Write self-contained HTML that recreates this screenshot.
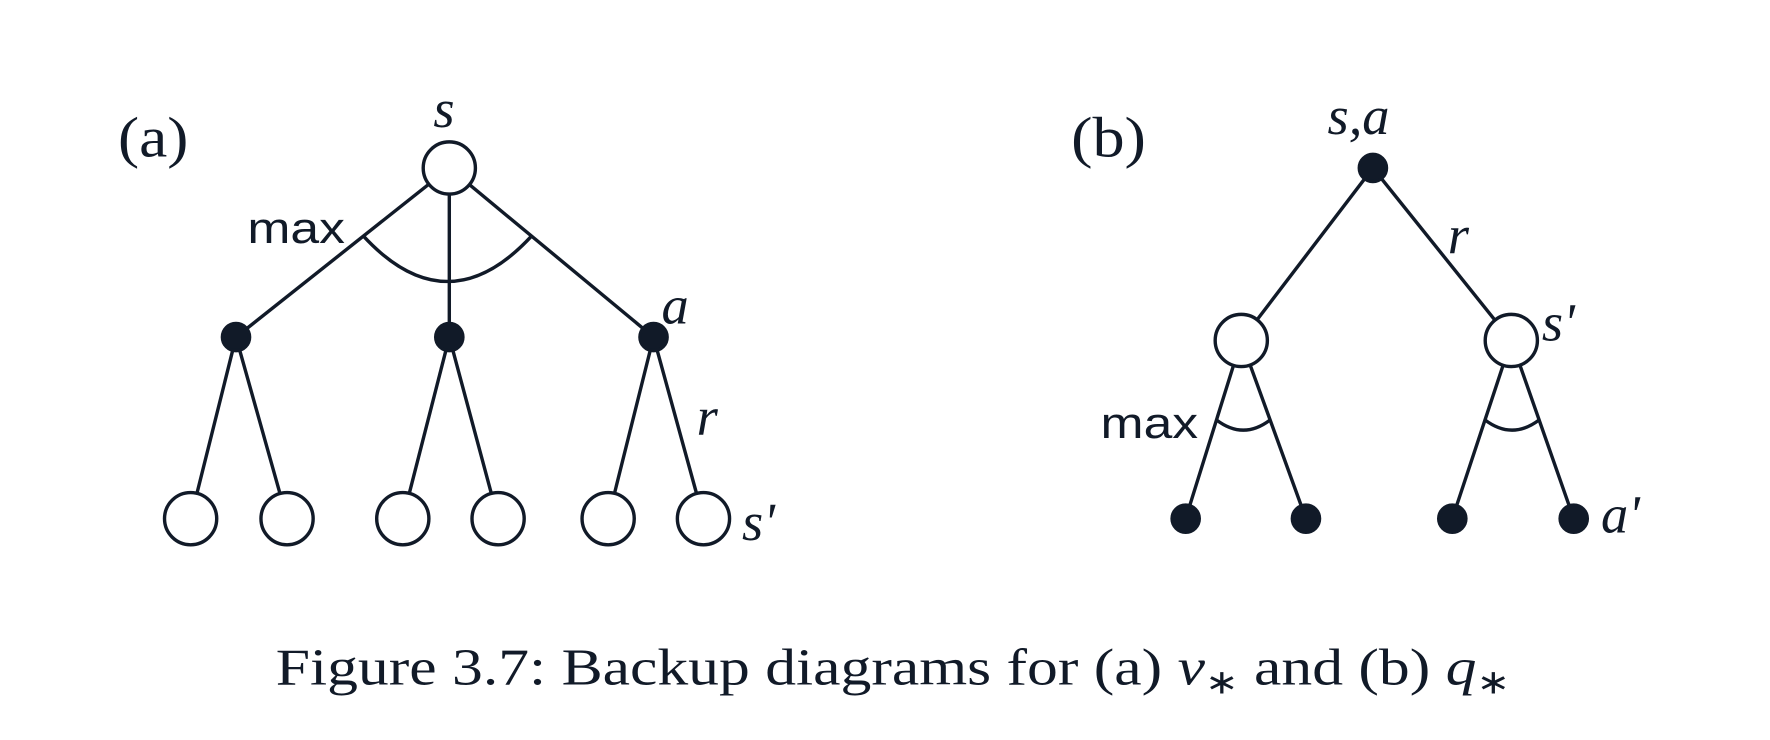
<!DOCTYPE html>
<html><head><meta charset="utf-8"><style>
html,body{margin:0;padding:0;background:#fff;}
svg{display:block;}
.serif{font-family:"Liberation Serif",serif;fill:#111a28;}
.sans{font-family:"Liberation Sans",sans-serif;fill:#111a28;}
</style></head><body>
<svg id="fig" width="1770" height="740" viewBox="0 0 1560 652" preserveAspectRatio="none">
<g id="edges" stroke="#111a28" stroke-width="3" fill="none"></g>
<g id="nodes" stroke="#111a28" stroke-width="3"></g>
<g>
<text class="serif" x="104" y="138" font-size="50" textLength="62" lengthAdjust="spacingAndGlyphs">(a)</text>
<text class="serif" x="382" y="112" font-size="48" font-style="italic">s</text>
<text class="sans" x="218" y="214" font-size="38" textLength="86" lengthAdjust="spacingAndGlyphs">max</text>
<text class="serif" x="583" y="285" font-size="48" font-style="italic">a</text>
<text class="serif" x="614" y="383" font-size="48" font-style="italic">r</text>
<text class="serif" x="654" y="476" font-size="48" font-style="italic">s'</text>
<text class="serif" x="944" y="138" font-size="50" textLength="66" lengthAdjust="spacingAndGlyphs">(b)</text>
<text class="serif" x="1170" y="118" font-size="48" font-style="italic">s,a</text>
<text class="serif" x="1276" y="223" font-size="48" font-style="italic">r</text>
<text class="serif" x="1359" y="300" font-size="48" font-style="italic">s'</text>
<text class="sans" x="970" y="386" font-size="38" textLength="86" lengthAdjust="spacingAndGlyphs">max</text>
<text class="serif" x="1411" y="469" font-size="48" font-style="italic">a'</text>
<text class="serif" x="243" y="603" font-size="46" textLength="1088" lengthAdjust="spacingAndGlyphs">Figure 3.7: Backup diagrams for (a) <tspan font-style="italic">v</tspan><tspan font-size="30" dy="8">∗</tspan><tspan dy="-8"> and (b) </tspan><tspan font-style="italic">q</tspan><tspan font-size="30" dy="8">∗</tspan></text>
</g>
</svg>
<script>
// node positions: type 0=open state, 1=filled action
const nodesX = [396,208,396,576,168,253,355,439,536,620, 1210,1094,1332,1045,1151,1280,1387];
const nodesY = [148,297,297,297,457,457,457,457,457,457, 148,300,300,457,457,457,457];
const nodesType = [0,1,1,1,0,0,0,0,0,0, 1,0,0,1,1,1,1];
const edgesFrom = [0,0,0,1,1,2,2,3,3, 10,10,11,11,12,12];
const edgesTo   = [1,2,3,4,5,6,7,8,9, 11,12,13,14,15,16];
const R = [23,12];
const ns='http://www.w3.org/2000/svg';
const eg=document.getElementById('edges'), ng=document.getElementById('nodes');
function endpoints(a,b){
  const dx=nodesX[b]-nodesX[a], dy=nodesY[b]-nodesY[a], L=Math.hypot(dx,dy);
  const ra=R[nodesType[a]], rb=R[nodesType[b]];
  return [nodesX[a]+dx/L*ra, nodesY[a]+dy/L*ra, nodesX[b]-dx/L*rb, nodesY[b]-dy/L*rb];
}
const seg={};
for(let i=0;i<edgesFrom.length;i++){
  const c=endpoints(edgesFrom[i],edgesTo[i]);
  seg[edgesFrom[i]+'-'+edgesTo[i]]=c;
  const l=document.createElementNS(ns,'line');
  l.setAttribute('x1',c[0]);l.setAttribute('y1',c[1]);l.setAttribute('x2',c[2]);l.setAttribute('y2',c[3]);
  
  
  eg.appendChild(l);
}
function xAt(c,y){return c[0]+(c[2]-c[0])*(y-c[1])/(c[3]-c[1]);}
function arc(p,c1,c2,y,bulge,name){
  const x1=xAt(seg[p+'-'+c1],y), x2=xAt(seg[p+'-'+c2],y);
  const pth=document.createElementNS(ns,'path');
  pth.setAttribute('d',`M${x1},${y} Q${(x1+x2)/2},${y+2*bulge} ${x2},${y}`);
  
  
  eg.appendChild(pth);
}
arc(0,1,3,208,40,'max-arc-a');
arc(11,13,14,370,9,'max-arc-b-left');
arc(12,15,16,370,9,'max-arc-b-right');
for(let i=0;i<nodesX.length;i++){
  const c=document.createElementNS(ns,'ellipse');
  const r=R[nodesType[i]];
  c.setAttribute('cx',nodesX[i]);c.setAttribute('cy',nodesY[i]);
  c.setAttribute('rx',r);c.setAttribute('ry',r);
  c.setAttribute('fill',nodesType[i]?'#111a28':'#fff');
  
  
  ng.appendChild(c);
}
</script>
</body></html>
